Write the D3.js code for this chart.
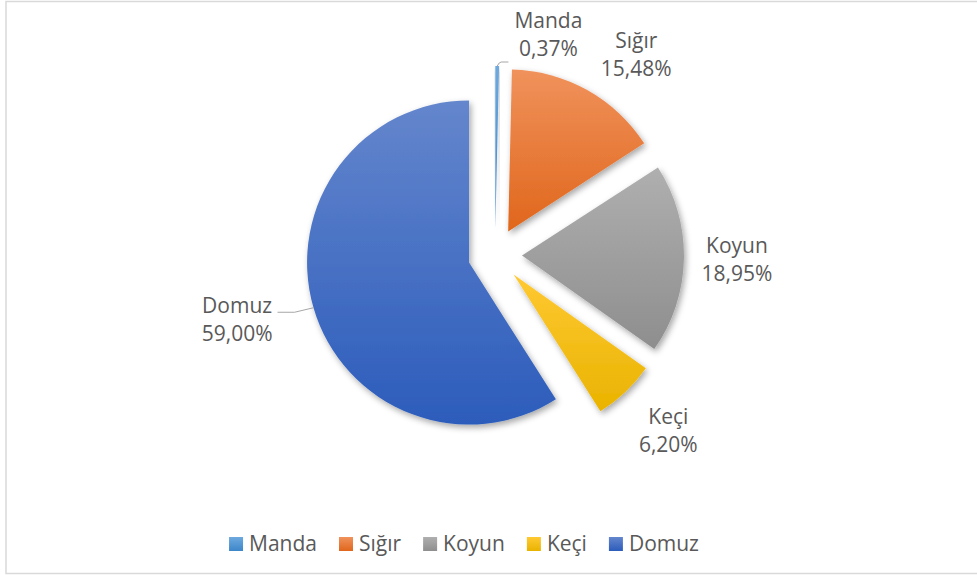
<!DOCTYPE html>
<html>
<head>
<meta charset="utf-8">
<script src="https://cdn.jsdelivr.net/npm/d3@7"></script>
<style>
  body { margin: 0; background: #fff; }
  text { font-family: "Open Sans", sans-serif; fill: #595959; }
</style>
</head>
<body>
<div id="chart"></div>
<script>
// data
const categories = ["Manda", "Sığır", "Koyun", "Keçi", "Domuz"];
const values = [0.37, 15.48, 18.95, 6.20, 59.00];
const valueLabels = ["0,37%", "15,48%", "18,95%", "6,20%", "59,00%"];
// [top, bottom] of each slice's gradient
const colorTop = ["#6ea9df", "#f0925c", "#afafaf", "#ffc933", "#6486cd"];
const colorBottom = ["#3d86c9", "#e0661b", "#8e8e8e", "#e9b300", "#2c5cbb"];

const width = 977, height = 575;
const cx = 495, cy = 255;
const radius = 162, explode = 27;
const fontSize = 21;

// label placement: angle nudge (deg) and radius per slice
const labelTweak = {
    "Manda": {da: 13, r: 226, leader: true},
    "Sığır": {da: 6, r: 245},
    "Koyun": {da: 0, r: 242},
    "Keçi": {da: -1, r: 247},
    "Domuz": {da: 2, r: 266, leader: true}
};

let svg = d3.select("#chart").append("svg")
    .attr("width", width)
    .attr("height", height)
    .attr("viewBox", [0, 0, width, height]);

let defs = svg.append("defs");
categories.forEach((c, i) => {
    let g = defs.append("linearGradient")
        .attr("id", "grad" + i)
        .attr("x1", 0).attr("y1", 0).attr("x2", 0).attr("y2", 1);
    g.append("stop").attr("offset", "0%").attr("stop-color", colorTop[i]);
    g.append("stop").attr("offset", "100%").attr("stop-color", colorBottom[i]);
});
defs.append("filter")
    .attr("id", "shadow")
    .attr("x", "-20%").attr("y", "-20%").attr("width", "140%").attr("height", "140%")
  .append("feDropShadow")
    .attr("dx", 2).attr("dy", 3)
    .attr("stdDeviation", 3)
    .attr("flood-color", "#000")
    .attr("flood-opacity", 0.35);

// chart border
svg.append("rect")
    .attr("x", 6).attr("y", 1.5)
    .attr("width", width + 10).attr("height", 572)
    .attr("fill", "none")
    .attr("stroke", "#d9d9d9")
    .attr("stroke-width", 1.5);

let pie = d3.pie().sort(null).value(d => d.v);
let arcs = pie(categories.map((c, i) => ({c: c, v: values[i], i: i})));
let arc = d3.arc().innerRadius(0).outerRadius(radius);

const mid = d => (d.startAngle + d.endAngle) / 2;
const polar = (a, r) => [Math.sin(a) * r, -Math.cos(a) * r];

let g = svg.append("g").attr("transform", `translate(${cx},${cy})`);

g.selectAll("path.slice")
    .data(arcs)
    .join("path")
    .attr("class", "slice")
    .attr("transform", d => {
        let [x, y] = polar(mid(d), explode);
        return `translate(${x},${y})`;
    })
    .attr("d", arc)
    .attr("fill", d => `url(#grad${d.data.i})`)
    .attr("filter", "url(#shadow)");

// data labels
let lh = 28;
arcs.forEach(d => {
    let t = labelTweak[d.data.c];
    let a = mid(d) + t.da * Math.PI / 180;
    let [lx, ly] = polar(a, t.r);
    let b1 = ly - 7;
    let lab = g.append("text")
        .attr("text-anchor", "middle")
        .style("font-size", fontSize + "px");
    lab.append("tspan").attr("x", lx).attr("y", b1).text(d.data.c);
    lab.append("tspan").attr("x", lx).attr("y", b1 + lh).text(valueLabels[d.data.i]);

    if (t.leader) {
        let bb = lab.node().getBBox();
        let [ox, oy] = polar(mid(d), explode + radius);
        let pts;
        if (ox < 0) {
            let ex = bb.x + bb.width + 5;
            pts = [[ox, oy], [ex + 17, b1 - 1], [ex, b1 - 1]];
        } else {
            let ex = bb.x - 6;
            pts = [[ox, oy], [ox + 2, oy - 3], [ox + 4, oy - 4], [ex, oy - 4]];
        }
        g.append("path")
            .attr("d", d3.line()(pts))
            .attr("fill", "none")
            .attr("stroke", "#a6a6a6")
            .attr("stroke-width", 1);
    }
});

// legend
let legend = svg.append("g");
let xPos = 0;
categories.forEach((c, i) => {
    let item = legend.append("g").attr("transform", `translate(${xPos},0)`);
    item.append("rect")
        .attr("x", 0).attr("y", -14)
        .attr("width", 14).attr("height", 14)
        .attr("fill", `url(#grad${i})`);
    let tx = item.append("text")
        .attr("x", 20).attr("y", 0)
        .style("font-size", fontSize + "px")
        .text(c);
    xPos += 20 + tx.node().getComputedTextLength() + 22;
});
let legW = xPos - 22;
legend.attr("transform", `translate(${464 - legW / 2},551)`);
</script>
</body>
</html>
